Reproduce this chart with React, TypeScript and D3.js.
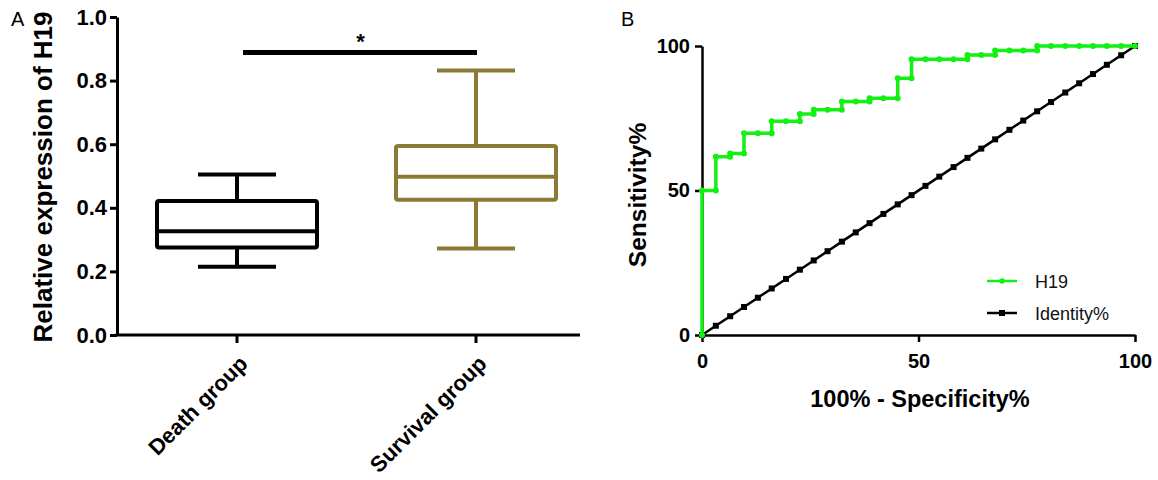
import React, { useEffect, useRef } from 'react';
import * as d3 from 'd3';

// Panel A: box plot of relative H19 expression
const groups = ['Death group', 'Survival group'];
const boxColors = ['#000000', '#8a7a33'];
const whiskerLow = [0.215, 0.272];
const quart1 = [0.275, 0.425];
const medians = [0.326, 0.498];
const quart3 = [0.421, 0.594];
const whiskerHigh = [0.505, 0.832];
const yTicksA = [0, 0.2, 0.4, 0.6, 0.8, 1.0];
const sigLevel = 0.888;

// Panel B: ROC curve
const rocFpr = [0, 0, 3.2, 3.2, 6.5, 6.5, 9.7, 9.7, 12.9, 16.1, 16.1, 19.4, 22.6, 22.6, 25.8, 25.8, 29.0, 32.3, 32.3, 35.5, 38.7, 38.7, 41.9, 45.2, 45.2, 48.4, 48.4, 51.6, 54.8, 58.1, 61.3, 61.3, 64.5, 67.7, 67.7, 71.0, 74.2, 77.4, 77.4, 80.6, 83.9, 87.1, 90.3, 93.5, 96.8, 100];
const rocTpr = [0, 50, 50, 61.7, 61.7, 62.8, 62.8, 69.8, 69.8, 69.8, 74.0, 74.0, 74.0, 76.5, 76.5, 77.9, 77.9, 77.9, 80.8, 80.8, 80.8, 81.9, 81.9, 81.9, 88.8, 88.8, 95.4, 95.4, 95.4, 95.4, 95.4, 96.9, 96.9, 96.9, 98.4, 98.4, 98.4, 98.4, 100, 100, 100, 100, 100, 100, 100, 100];
const identityPts = [0, 3.2, 6.5, 9.7, 12.9, 16.1, 19.4, 22.6, 25.8, 29.0, 32.3, 35.5, 38.7, 41.9, 45.2, 48.4, 51.6, 54.8, 58.1, 61.3, 64.5, 67.7, 71.0, 74.2, 77.4, 80.6, 83.9, 87.1, 90.3, 93.5, 96.8, 100];
const ticksB = [0, 50, 100];
const legendNames = ['H19', 'Identity%'];

const FONT = '"Liberation Sans", Arial, Helvetica, sans-serif';
const GREEN = '#14f014';

const App = () => {
    const svgRef = useRef(null);

    useEffect(() => {
        const svg = d3.select(svgRef.current);
        svg.selectAll('*').remove();

        // ---------- Panel A ----------
        const yA = d3.scaleLinear().domain([0, 1]).range([335, 17]);
        const xA = d3.scalePoint().domain(groups).range([237, 476]);
        const axisLeftX = 117;
        const boxW = 160;
        const capW = 78;

        svg.append('text')
            .attr('x', 11).attr('y', 26)
            .text('A')
            .style('font-family', FONT).style('font-size', '20px');

        const gy = svg.append('g')
            .attr('transform', `translate(${axisLeftX},0)`)
            .call(d3.axisLeft(yA).tickValues(yTicksA).tickFormat(d3.format('.1f')).tickSize(7).tickSizeOuter(0).tickPadding(3));
        gy.selectAll('path, line').attr('stroke', '#000').attr('stroke-width', 3);
        gy.selectAll('text')
            .style('font-family', FONT).style('font-size', '22px').style('font-weight', 'bold').attr('fill', '#000');

        // x axis line + ticks
        svg.append('line')
            .attr('x1', axisLeftX - 1.5).attr('x2', 580)
            .attr('y1', yA(0)).attr('y2', yA(0))
            .attr('stroke', '#000').attr('stroke-width', 3);
        groups.forEach((g) => {
            svg.append('line')
                .attr('x1', xA(g)).attr('x2', xA(g))
                .attr('y1', yA(0)).attr('y2', yA(0) + 8)
                .attr('stroke', '#000').attr('stroke-width', 3);
            svg.append('text')
                .attr('transform', `translate(${xA(g) + 12},365) rotate(-45)`)
                .attr('text-anchor', 'end')
                .text(g)
                .style('font-family', FONT).style('font-size', '22px').style('font-weight', 'bold');
        });

        svg.append('text')
            .attr('transform', `translate(52,177) rotate(-90)`)
            .attr('text-anchor', 'middle')
            .text('Relative expression of H19')
            .style('font-family', FONT).style('font-size', '26px').style('font-weight', 'bold');

        // boxes
        groups.forEach((g, i) => {
            const cx = xA(g);
            const col = boxColors[i];
            const bg = svg.append('g').attr('stroke', col).attr('stroke-width', 4).attr('fill', 'none');
            bg.append('line').attr('x1', cx).attr('x2', cx).attr('y1', yA(whiskerHigh[i])).attr('y2', yA(quart3[i]));
            bg.append('line').attr('x1', cx).attr('x2', cx).attr('y1', yA(quart1[i])).attr('y2', yA(whiskerLow[i]));
            bg.append('line').attr('x1', cx - capW / 2).attr('x2', cx + capW / 2).attr('y1', yA(whiskerHigh[i])).attr('y2', yA(whiskerHigh[i]));
            bg.append('line').attr('x1', cx - capW / 2).attr('x2', cx + capW / 2).attr('y1', yA(whiskerLow[i])).attr('y2', yA(whiskerLow[i]));
            bg.append('rect')
                .attr('x', cx - boxW / 2).attr('y', yA(quart3[i]))
                .attr('width', boxW).attr('height', yA(quart1[i]) - yA(quart3[i]))
                .attr('rx', 2);
            bg.append('line').attr('x1', cx - boxW / 2).attr('x2', cx + boxW / 2).attr('y1', yA(medians[i])).attr('y2', yA(medians[i]));
        });

        // significance bar
        svg.append('line')
            .attr('x1', xA(groups[0]) + 6).attr('x2', xA(groups[1]) + 1)
            .attr('y1', yA(sigLevel)).attr('y2', yA(sigLevel))
            .attr('stroke', '#000').attr('stroke-width', 5);
        svg.append('text')
            .attr('x', (xA(groups[0]) + xA(groups[1])) / 2 + 4).attr('y', yA(sigLevel) - 4)
            .attr('text-anchor', 'middle')
            .text('*')
            .style('font-family', FONT).style('font-size', '22px').style('font-weight', 'bold');

        // ---------- Panel B ----------
        const xB = d3.scaleLinear().domain([0, 100]).range([702, 1135]);
        const yB = d3.scaleLinear().domain([0, 100]).range([335, 46]);

        svg.append('text')
            .attr('x', 621).attr('y', 26)
            .text('B')
            .style('font-family', FONT).style('font-size', '20px');

        const gyB = svg.append('g')
            .attr('transform', `translate(${xB(0)},0)`)
            .call(d3.axisLeft(yB).tickValues(ticksB).tickSize(7).tickSizeOuter(0).tickPadding(5));
        const gxB = svg.append('g')
            .attr('transform', `translate(0,${yB(0)})`)
            .call(d3.axisBottom(xB).tickValues(ticksB).tickSize(7).tickSizeOuter(0).tickPadding(12));
        [gyB, gxB].forEach((ax) => {
            ax.selectAll('path, line').attr('stroke', '#000').attr('stroke-width', 2.5);
            ax.selectAll('text')
                .style('font-family', FONT).style('font-size', '20px').style('font-weight', 'bold').attr('fill', '#000');
        });

        svg.append('text')
            .attr('transform', `translate(646,195) rotate(-90)`)
            .attr('text-anchor', 'middle')
            .text('Sensitivity%')
            .style('font-family', FONT).style('font-size', '24.5px').style('font-weight', 'bold');
        svg.append('text')
            .attr('x', 920).attr('y', 407)
            .attr('text-anchor', 'middle')
            .text('100% - Specificity%')
            .style('font-family', FONT).style('font-size', '23.5px').style('font-weight', 'bold');

        // identity line
        const line = d3.line().x(d => xB(d[0])).y(d => yB(d[1]));
        const idData = identityPts.map(v => [v, v]);
        svg.append('path')
            .attr('d', line(idData))
            .attr('fill', 'none').attr('stroke', '#000').attr('stroke-width', 2.5);
        svg.append('g').selectAll('rect')
            .data(idData)
            .join('rect')
            .attr('x', d => xB(d[0]) - 3).attr('y', d => yB(d[1]) - 3)
            .attr('width', 6).attr('height', 6)
            .attr('fill', '#000');

        // ROC curve
        const rocData = rocFpr.map((f, i) => [f, rocTpr[i]]);
        svg.append('path')
            .attr('d', line(rocData))
            .attr('fill', 'none').attr('stroke', GREEN).attr('stroke-width', 3.5);
        svg.append('g').selectAll('circle')
            .data(rocData)
            .join('circle')
            .attr('cx', d => xB(d[0])).attr('cy', d => yB(d[1]))
            .attr('r', 3)
            .attr('fill', GREEN);

        // legend
        const legend = svg.append('g').attr('transform', 'translate(987,281)');
        legendNames.forEach((name, i) => {
            const row = legend.append('g').attr('transform', `translate(0,${i * 32})`);
            const col = i === 0 ? GREEN : '#000';
            row.append('line').attr('x1', 0).attr('x2', 30).attr('y1', 0).attr('y2', 0)
                .attr('stroke', col).attr('stroke-width', 2.5);
            if (i === 0) {
                row.append('circle').attr('cx', 15).attr('cy', 0).attr('r', 2.8).attr('fill', col);
            } else {
                row.append('rect').attr('x', 12).attr('y', -3).attr('width', 6).attr('height', 6).attr('fill', col);
            }
            row.append('text')
                .attr('x', 48).attr('y', 6.5)
                .text(name)
                .style('font-family', FONT).style('font-size', '18px').attr('fill', '#111');
        });
    }, []);

    return (
        <svg
            ref={svgRef}
            width={1158}
            height={480}
            style={{ position: 'absolute', left: 0, top: 0, background: '#fff' }}
        />
    );
};

export default App;
